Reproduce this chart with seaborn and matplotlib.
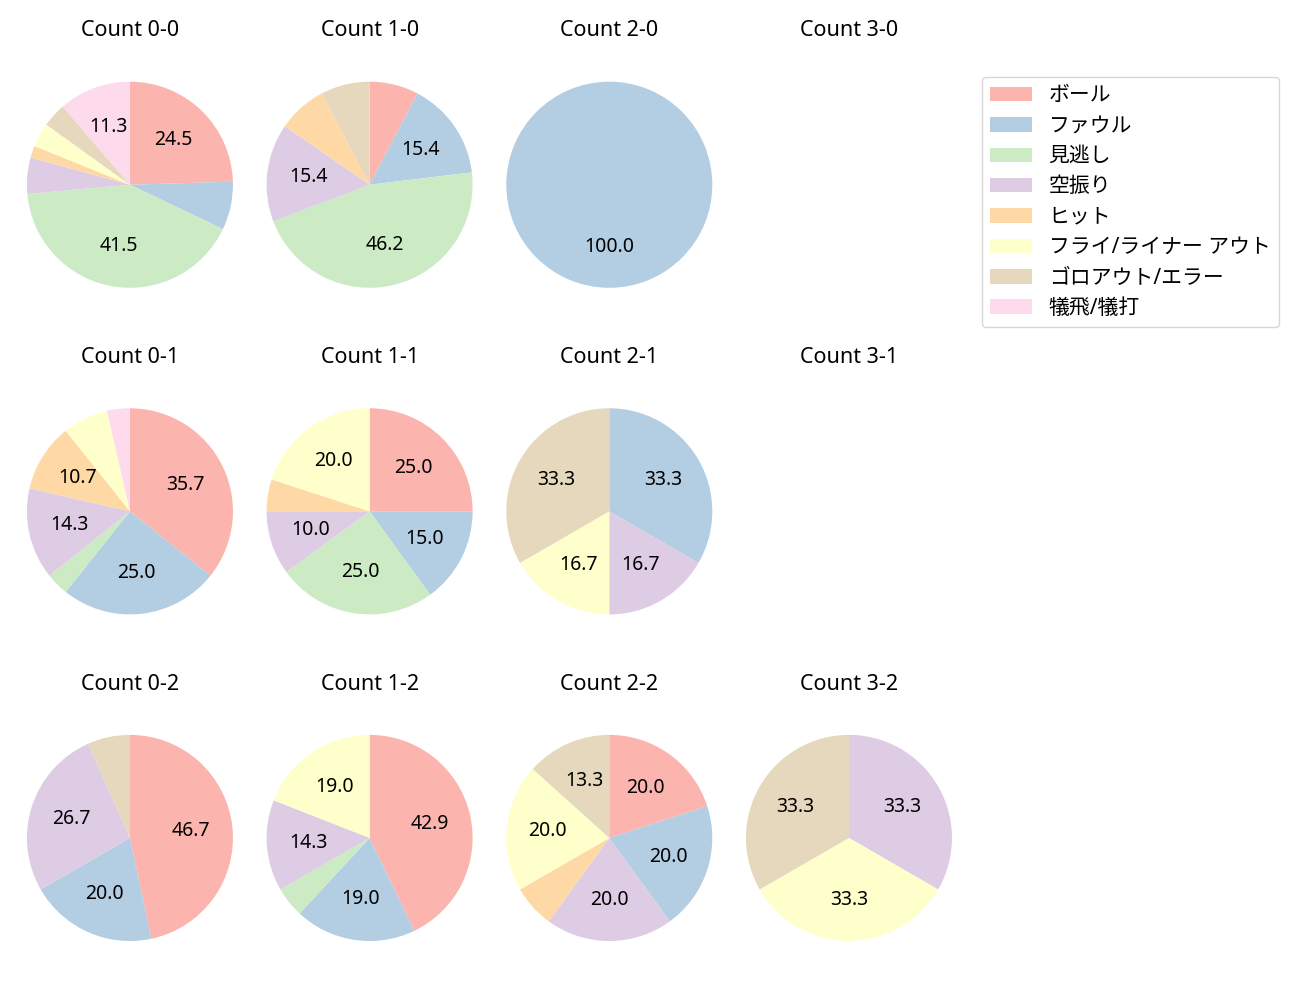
import matplotlib
matplotlib.use("Agg")
import matplotlib.pyplot as plt
from matplotlib.patches import Patch
import seaborn as sns

sns.set_theme(style="white")
plt.rcParams['font.family'] = ['Noto Sans', 'Noto Sans CJK JP', 'DejaVu Sans']
plt.rcParams['text.color'] = 'black'

categories = ["ボール", "ファウル", "見逃し", "空振り", "ヒット",
              "フライ/ライナー アウト", "ゴロアウト/エラー", "犠飛/犠打"]

# pitch results per count, in the order of categories
count_0_0 = [13, 4, 22, 3, 1, 2, 2, 6]
count_1_0 = [1, 2, 6, 2, 1, 0, 1, 0]
count_2_0 = [0, 1, 0, 0, 0, 0, 0, 0]
count_3_0 = [0, 0, 0, 0, 0, 0, 0, 0]
count_0_1 = [10, 7, 1, 4, 3, 2, 0, 1]
count_1_1 = [5, 3, 5, 2, 1, 4, 0, 0]
count_2_1 = [0, 2, 0, 1, 0, 1, 2, 0]
count_3_1 = [0, 0, 0, 0, 0, 0, 0, 0]
count_0_2 = [7, 3, 0, 4, 0, 0, 1, 0]
count_1_2 = [9, 4, 1, 3, 0, 4, 0, 0]
count_2_2 = [3, 3, 0, 3, 1, 3, 2, 0]
count_3_2 = [0, 0, 0, 1, 0, 1, 1, 0]

grid = [
    [("0-0", count_0_0), ("1-0", count_1_0), ("2-0", count_2_0), ("3-0", count_3_0)],
    [("0-1", count_0_1), ("1-1", count_1_1), ("2-1", count_2_1), ("3-1", count_3_1)],
    [("0-2", count_0_2), ("1-2", count_1_2), ("2-2", count_2_2), ("3-2", count_3_2)],
]

colors = sns.color_palette("Pastel1", len(categories))

fig, axes = plt.subplots(3, 4, figsize=(13, 10), dpi=100)
fig.subplots_adjust(left=0.0128, right=0.7402, top=0.958, bottom=0.0193,
                     wspace=0.0577, hspace=0.144)

def pct_label(p):
    return "%.1f" % p if p >= 9 else ""

for r, row in enumerate(grid):
    for c, (name, vals) in enumerate(row):
        ax = axes[r][c]
        ax.set_title("Count %s" % name, fontsize=15.5, color="black", pad=4)
        if sum(vals) == 0:
            ax.axis("off")
            continue
        keep = [i for i, v in enumerate(vals) if v > 0]
        ax.pie([vals[i] for i in keep], colors=[colors[i] for i in keep],
               startangle=90, counterclock=False, autopct=pct_label,
               wedgeprops={"linewidth": 0},
               textprops={"fontsize": 14, "color": "black"})
        ax.set_xlim(-1.1, 1.1)
        ax.set_ylim(-1.385, 1.385)
        ax.set_aspect("equal", adjustable="datalim")

handles = [Patch(facecolor=colors[i], edgecolor="none", label=categories[i])
           for i in range(len(categories))]
fig.legend(handles=handles, loc="upper left", bbox_to_anchor=(982 / 1300, 1 - 77 / 1000),
           borderaxespad=0, fontsize=15, labelspacing=0.45)

fig.savefig("out.png", dpi=100)
